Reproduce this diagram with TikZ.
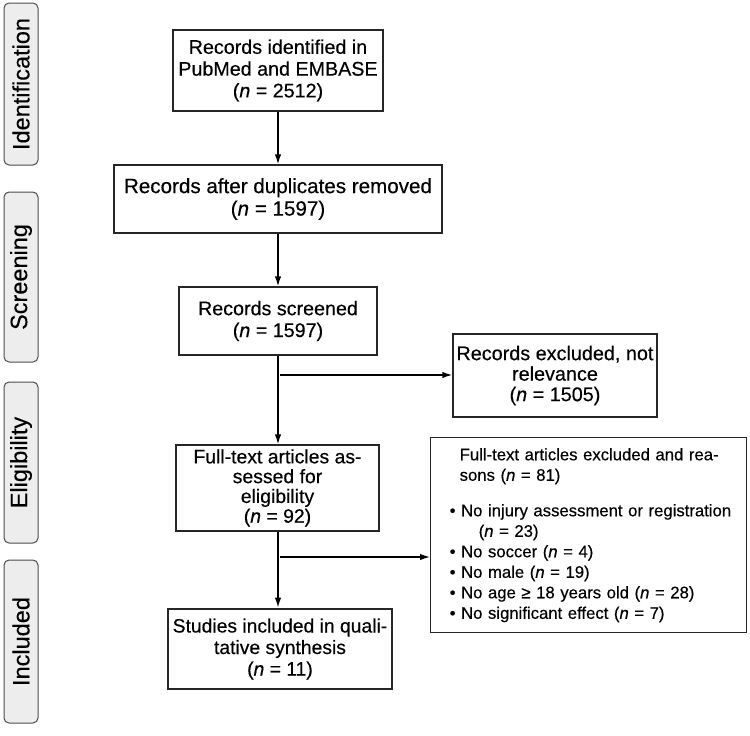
\documentclass[tikz,border=0pt]{standalone}
\usepackage{fontspec}
\setmainfont{Liberation Sans}[FakeBold=0.35]
\usetikzlibrary{arrows.meta,positioning,calc}

\begin{document}
\begin{tikzpicture}[
    x=1pt, y=-1pt,
    font=\fontsize{19.7}{21.8}\selectfont,
    box/.style={rectangle, draw=black!85, line width=1.4pt, fill=white, align=center, inner sep=0pt},
    final/.style={box, line width=2.8pt},
    phase/.style={rectangle, draw=black!70, line width=1pt, rounded corners=5pt, fill=gray!14, rotate=90, minimum height=34pt, inner sep=0pt, font=\fontsize{23.5}{26}\selectfont},
    arrow/.style={-{Latex[length=10pt, width=6.5pt]}, line width=1.4pt}
]
    \useasboundingbox (0,0) rectangle (750,736);

    % --- Phases (left) ---
    \node[phase, minimum width=162pt] (p_ident) at (21, 84) {Identification};
    \node[phase, minimum width=170pt] (p_screen) at (21, 277) {Screening};
    \node[phase, minimum width=161pt] (p_elig) at (21, 462.5) {Eligibility};
    \node[phase, minimum width=163pt] (p_incl) at (21, 641.5) {Included};

    % --- Main column ---
    \node[box, minimum width=210pt, minimum height=81pt] (ident) at (278, 70.5)
        {Records identified in\\PubMed and EMBASE\\(\textit{n} = 2512)};
    \node[box, minimum width=328pt, minimum height=68pt, font=\fontsize{20.6}{22.5}\selectfont] (dups) at (278, 199)
        {Records after duplicates removed\\(\textit{n} = 1597)};
    \node[box, minimum width=198pt, minimum height=68pt] (screened) at (278, 321)
        {Records screened\\(\textit{n} = 1597)};
    \node[box, minimum width=203pt, minimum height=86pt, font=\fontsize{19.4}{19.8}\selectfont] (fulltext) at (277.5, 488)
        {Full-text articles as-\\sessed for\\eligibility\\(\textit{n} = 92)};
    \node[final, minimum width=224pt, minimum height=80pt, font=\fontsize{19.3}{21.5}\selectfont] (included) at (280, 649)
        {Studies included in quali-\\tative synthesis\\(\textit{n} = 11)};

    % --- Exclusions (right) ---
    \node[box, minimum width=204pt, minimum height=83pt, font=\fontsize{19.8}{20.5}\selectfont] (excl1) at (555, 375.5)
        {Records excluded, not\\relevance\\(\textit{n} = 1505)};
    \node[box, anchor=north west, text width=316pt, minimum height=195pt, align=left,
          font=\fontsize{16.7}{20.5}\selectfont] (excl2) at (430, 437)
        {\hspace*{29pt}Full-text articles excluded and rea-\\
         \hspace*{29pt}sons (\textit{n} = 81)\\[15pt]
         \hspace*{19pt}\textbullet\ No injury assessment or registration\\
         \hspace*{48pt}(\textit{n} = 23)\\
         \hspace*{19pt}\textbullet\ No soccer (\textit{n} = 4)\\
         \hspace*{19pt}\textbullet\ No male (\textit{n} = 19)\\
         \hspace*{19pt}\textbullet\ No age ≥ 18 years old (\textit{n} = 28)\\
         \hspace*{19pt}\textbullet\ No significant effect (\textit{n} = 7)};

    % Flow
    \draw[arrow] (ident) -- (dups);
    \draw[arrow] (dups) -- (screened);
    \draw[arrow] (screened.south) -- (screened.south |- fulltext.north);
    \draw[arrow] (fulltext.south -| screened.south) -- (included.north -| screened.south);

    % Branches
    \coordinate (br1) at (280, 375);
    \coordinate (br2) at (280, 557);
    \draw[arrow] (br1) -- (br1 -| excl1.west);
    \draw[arrow] (br2) -- (br2 -| excl2.west);

\end{tikzpicture}
\end{document}
